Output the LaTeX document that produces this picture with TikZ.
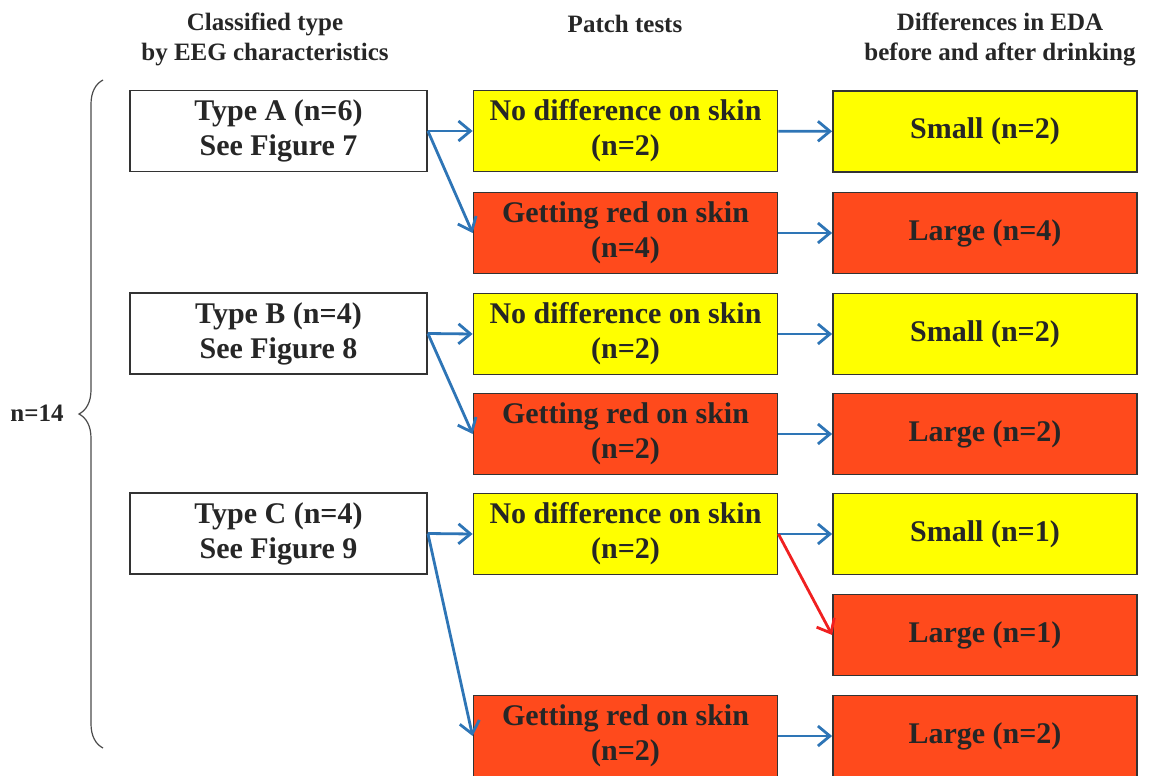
\documentclass[tikz,border=0pt]{standalone}
\usepackage{fontspec}
\setmainfont{Liberation Serif}
\usetikzlibrary{arrows.meta,positioning,decorations.pathreplacing}

\definecolor{patchyellow}{RGB}{255,255,0}
\definecolor{patchred}{RGB}{255,74,28}
\definecolor{flowblue}{RGB}{46,117,182}
\definecolor{flowred}{RGB}{240,32,32}

\begin{document}
\begin{tikzpicture}[x=0.5pt, y=-0.5pt,
  box/.style={draw=black!80, line width=0.9pt, minimum width=148.5pt, minimum height=40.5pt,
    align=center, inner sep=2pt, text=black!85, font=\fontsize{15}{17.5}\selectfont\bfseries},
  widebox/.style={box, minimum width=152pt},
  yellowbox/.style={widebox, fill=patchyellow},
  redbox/.style={widebox, fill=patchred},
  head/.style={align=center, text=black!85, font=\fontsize{12.5}{15}\selectfont\bfseries},
  arr/.style={-{Straight Barb[length=6pt,width=10pt]}, line width=1.4pt, flowblue}
]
\useasboundingbox (0,0) rectangle (1151,776);

% column headings
\node[head] (h1) at (265,39) {Classified type\\by EEG characteristics};
\node[head] (h2) at (625,24) {Patch tests};
\node[head] (h3) at (1000,39) {Differences in EDA\\before and after drinking};

% EEG types
\node[box] (typeA) at (278.5,131) {Type A (n=6)\\See Figure 7};
\node[box] (typeB) at (278.5,333.5) {Type B (n=4)\\See Figure 8};
\node[box] (typeC) at (278.5,533.5) {Type C (n=4)\\See Figure 9};

% patch tests
\node[yellowbox] (patchA1) at (625.5,131) {No difference on skin\\(n=2)};
\node[redbox]    (patchA2) at (625.5,233) {Getting red on skin\\(n=4)};
\node[yellowbox] (patchB1) at (625.5,334) {No difference on skin\\(n=2)};
\node[redbox]    (patchB2) at (625.5,434) {Getting red on skin\\(n=2)};
\node[yellowbox] (patchC1) at (625.5,534) {No difference on skin\\(n=2)};
\node[redbox]    (patchC2) at (625.5,736) {Getting red on skin\\(n=2)};

% EDA differences
\node[yellowbox] (edaA1) at (985,131.5) {Small (n=2)};
\node[redbox]    (edaA2) at (985,233) {Large (n=4)};
\node[yellowbox] (edaB1) at (985,334) {Small (n=2)};
\node[redbox]    (edaB2) at (985,434) {Large (n=2)};
\node[yellowbox] (edaC1) at (985,534) {Small (n=1)};
\node[redbox]    (edaC2) at (985,635) {Large (n=1)};
\node[redbox]    (edaC3) at (985,736) {Large (n=2)};

% total and brace
\node[head] (total) at (37,413) {n=14};
\coordinate (braceTop) at (103,80);
\coordinate (braceBot) at (103,748);
\draw[line width=0.6pt, black!70, decoration={brace, amplitude=12pt}, decorate] (braceBot) -- (braceTop);

% arrows
\draw[arr] (typeA.east) -- (patchA1.west);
\draw[arr] (typeA.east) -- (patchA2.west);
\draw[arr] (typeB.east) -- (patchB1.west);
\draw[arr] (typeB.east) -- (patchB2.west);
\draw[arr] (typeC.east) -- (patchC1.west);
\draw[arr] (typeC.east) -- (patchC2.west);

\draw[arr] (patchA1) -- (edaA1);
\draw[arr] (patchA2) -- (edaA2);
\draw[arr] (patchB1) -- (edaB1);
\draw[arr] (patchB2) -- (edaB2);
\draw[arr] (patchC1) -- (edaC1);
\draw[arr, flowred] (patchC1.east) -- (edaC2.west);
\draw[arr] (patchC2) -- (edaC3);
\end{tikzpicture}
\end{document}
